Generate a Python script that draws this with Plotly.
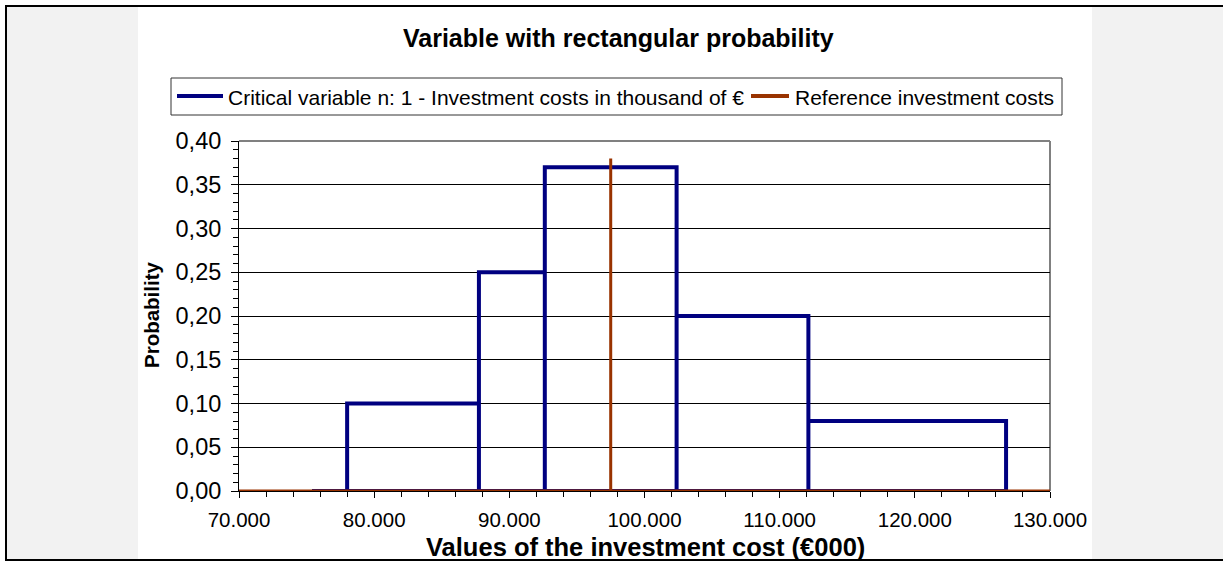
import plotly.graph_objects as go

# Rectangular probability distribution of the investment cost (thousand €)
bin_edges = [78000, 87750, 92625, 102375, 112125, 126750]
probabilities = [0.10, 0.25, 0.37, 0.20, 0.08]
range_start = 75400

# Reference investment cost marker
reference_cost = 97500
reference_height = 0.38
axis_min, axis_max = 70000, 130000

x_ticks = [70000, 80000, 90000, 100000, 110000, 120000, 130000]
y_ticks = [0.00, 0.05, 0.10, 0.15, 0.20, 0.25, 0.30, 0.35, 0.40]

series_names = ["Critical variable n: 1 - Investment costs in thousand of €",
                "Reference investment costs"]
series_colors = ["#000080", "#993300"]

# Build the outline of the rectangles, each one dropping to the baseline
step_x, step_y = [range_start], [0]
for i, p in enumerate(probabilities):
    left, right = bin_edges[i], bin_edges[i + 1]
    step_x += [left, left, right, right]
    step_y += [0, p, p, 0]
step_x.append(range_start)
step_y.append(0)

ref_x = [axis_min, reference_cost, reference_cost, reference_cost, axis_max]
ref_y = [0, 0, reference_height, 0, 0]

# Pixel geometry of the page
W, H = 1223, 561
L, R, T, B = 239, 1050, 141, 491
pw, ph = R - L, B - T


def px(x):
    return (x - L) / pw


def py(y):
    return (B - y) / ph


fig = go.Figure()
fig.add_trace(go.Scatter(
    x=step_x, y=step_y, mode="lines", name=series_names[0],
    line=dict(color=series_colors[0], width=4), cliponaxis=False,
))
fig.add_trace(go.Scatter(
    x=ref_x, y=ref_y, mode="lines", name=series_names[1],
    line=dict(color=series_colors[1], width=3), cliponaxis=False,
))

font = "Arial, Liberation Sans, sans-serif"

shapes = [
    # grey side panels
    dict(type="rect", xref="paper", yref="paper", x0=px(7), x1=px(138), y0=py(559), y1=py(7),
         fillcolor="#f2f2f2", line=dict(width=0), layer="below"),
    dict(type="rect", xref="paper", yref="paper", x0=px(1092), x1=px(1240), y0=py(559), y1=py(7),
         fillcolor="#f2f2f2", line=dict(width=0), layer="below"),
    # outer frame
    dict(type="rect", xref="paper", yref="paper", x0=px(6), x1=px(1240), y0=py(560), y1=py(6),
         line=dict(color="black", width=2), fillcolor="rgba(0,0,0,0)"),
    # plot area frame (top and right edges)
    dict(type="line", xref="paper", yref="paper", x0=0, x1=1, y0=1, y1=1,
         line=dict(color="#808080", width=2), layer="below"),
    dict(type="line", xref="paper", yref="paper", x0=1, x1=1, y0=0, y1=1,
         line=dict(color="#808080", width=2), layer="below"),
    # legend box, wider than the plot area so it is drawn by hand
    dict(type="rect", xref="paper", yref="paper", x0=px(171), x1=px(1062), y0=py(115), y1=py(78),
         line=dict(color="#333333", width=1), fillcolor="white"),
]

annotations = [
    dict(text="<b>Variable with rectangular probability</b>", xref="paper", yref="paper",
         x=px(618), y=py(38), showarrow=False, font=dict(size=25), xanchor="center", yanchor="middle"),
    dict(text="<b>Values of the investment cost (€000)</b>", xref="paper", yref="paper",
         x=px(645), y=py(547), showarrow=False, font=dict(size=25.5), xanchor="center", yanchor="middle"),
    dict(text="<b>Probability</b>", xref="paper", yref="paper", textangle=-90,
         x=px(151), y=py(315), showarrow=False, font=dict(size=20.5), xanchor="center", yanchor="middle"),
]

# legend entries: line sample followed by the series name
legend_entries = [(177, 223, 226), (751, 789, 793)]
for (s0, s1, tx), name, color in zip(legend_entries, series_names, series_colors):
    shapes.append(dict(type="line", xref="paper", yref="paper", x0=px(s0), x1=px(s1),
                       y0=py(96), y1=py(96), line=dict(color=color, width=4)))
    annotations.append(dict(text=name, xref="paper", yref="paper", x=px(tx), y=py(97),
                            xanchor="left", yanchor="middle", showarrow=False,
                            font=dict(size=21)))

fig.update_layout(
    width=W, height=H,
    margin=dict(l=L, r=W - R, t=T, b=H - B),
    paper_bgcolor="white", plot_bgcolor="white",
    separators=",.",
    font=dict(family=font, color="black", size=20),
    showlegend=False,
    shapes=shapes,
    annotations=annotations,
)

fig.update_xaxes(
    range=[axis_min, axis_max], tickvals=x_ticks, tickformat=",.0f",
    ticks="outside", ticklen=6, tickcolor="black", tickwidth=1,
    minor=dict(ticks="outside", ticklen=5, dtick=2000, tickcolor="black", showgrid=False),
    showgrid=False, zeroline=False, showline=True, linecolor="black", linewidth=1,
    tickfont=dict(size=20.5), ticklabelstandoff=4,
)
fig.update_yaxes(
    range=[0, 0.40], tickvals=y_ticks, tickformat=".2f",
    ticks="outside", ticklen=7, tickcolor="black", tickwidth=1,
    minor=dict(ticks="outside", ticklen=5, dtick=0.01, tickcolor="black", showgrid=False),
    showgrid=True, gridcolor="black", gridwidth=1, zeroline=False,
    showline=True, linecolor="black", linewidth=1,
    tickfont=dict(size=23.5), ticklabelstandoff=5,
)

fig.write_html("out.html")
